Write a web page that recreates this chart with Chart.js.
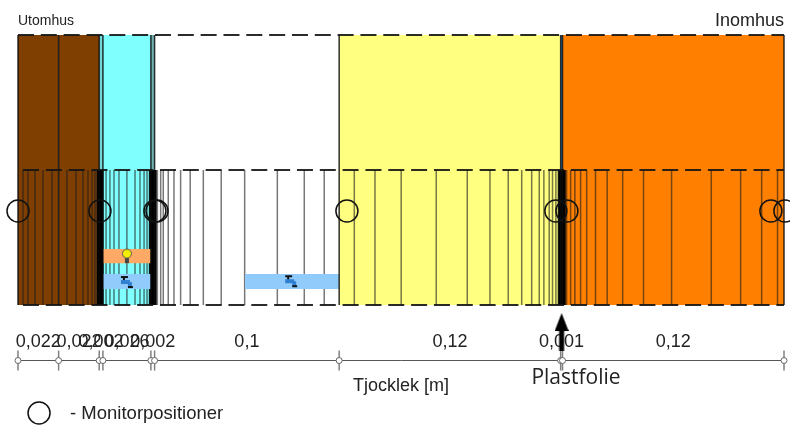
<!DOCTYPE html>
<html>
<head>
<meta charset="utf-8">
<style>
    html, body { margin: 0; padding: 0; background: #fff; overflow: hidden; }
    canvas { display: block; filter: blur(0.4px); }
</style>
<script src="https://cdn.jsdelivr.net/npm/chart.js@4"></script>
</head>
<body>
<canvas id="wall-chart" width="790" height="425"></canvas>
<script>
// wall layers, thickness in metres
const layerThickness = [0.022, 0.022, 0.002, 0.026, 0.002, 0.1, 0.12, 0.001, 0.12];
const layerLabels = ["0,022", "0,022", "0,002", "0,026", "0,002", "0,1", "0,12", "0,001", "0,12"];
const layerColors = ["#7f3f00", "#7f3f00", "#70d8d8", "#80ffff", "#70b0b0", "#ffffff", "#ffff80", "#2a7fc0", "#ff8000"];

// numeric grid lines inside the wall, metres
const meshPositions = [
    0.0027, 0.0054, 0.0092, 0.0135, 0.0184, 0.0265, 0.0314, 0.0352, 0.0379, 0.0401, 0.0417, 0.0428,
    0.0477, 0.0498, 0.052, 0.0547, 0.059, 0.0634, 0.0661, 0.0683,
    0.0699, 0.0712, 0.0755, 0.0773, 0.0787, 0.0814, 0.0845, 0.0881,
    0.0933, 0.1004, 0.1101, 0.1228, 0.1405, 0.1551, 0.1659, 0.1822, 0.1934, 0.2076, 0.2266, 0.2434,
    0.2557, 0.2656, 0.2729, 0.2783, 0.2824, 0.2849, 0.2878, 0.2896, 0.2914, 0.2927,
    0.2972, 0.2994, 0.3017, 0.3048, 0.3081, 0.3129, 0.3192,
    0.3276, 0.3389, 0.3541, 0.3756, 0.3915, 0.4029, 0.4115
];

// tightly packed grid lines around the thin layers, these read as solid black
const denseMeshPositions = [
    0.0434, 0.0442, 0.045, 0.0458,
    0.0716, 0.0722, 0.0728, 0.0734, 0.074, 0.0746,
    0.2932, 0.2938, 0.2944, 0.295, 0.2956, 0.2962
];

const monitorPositions = [0, 0.0444, 0.0742, 0.0753, 0.1782, 0.2914, 0.2974, 0.4079, 0.4155];
const monitorHeight = 0.348;
const monitorKeyPosition = [0.0114, -0.4];

// source bands: x from, x to, y from, y to
const heatSource = [0.046, 0.072, 0.155, 0.207];
const moistureSources = [[0.046, 0.072, 0.059, 0.115], [0.123, 0.174, 0.059, 0.115]];

const heatIcon = [0.059, 0.181];
const moistureIcons = [[0.059, 0.085], [0.148, 0.088]];
const foilArrow = [0.2945, -0.1];

const wallBottom = 0;
const meshTop = 0.5;
const wallTop = 1;
const axisHeight = -0.2056;
const labelHeight = -0.096;
const yMin = -0.4444;
const yMax = 1.1296;

const notes = [
    { text: "Utomhus", x: 0, y: 1.052, align: "left", font: "14px 'Liberation Sans'" },
    { text: "Inomhus", x: 0.415, y: 1.052, align: "right", font: "18px 'Liberation Sans'" },
    { text: "Tjocklek [m]", x: 0.2075, y: -0.3, align: "center", font: "18px 'Liberation Sans'" },
    { text: "Plastfolie", x: 0.3023, y: -0.27, align: "center", font: "21px 'Open Sans'" },
    { text: "- Monitorpositioner", x: 0.0282, y: -0.404, align: "left", font: "18.5px 'Liberation Sans'" }
];

let total = 0;
const boundaries = [0];
layerThickness.forEach(t => {
    total += t;
    boundaries.push(total);
});
const midpoints = layerThickness.map((t, i) => boundaries[i] + t / 2);

function makeBulbIcon() {
    const c = document.createElement("canvas");
    c.width = 12;
    c.height = 16;
    const g = c.getContext("2d");
    g.fillStyle = "#f4f000";
    g.strokeStyle = "#555";
    g.lineWidth = 1;
    g.beginPath();
    g.arc(6, 5.5, 4.5, 0, Math.PI * 2);
    g.fill();
    g.stroke();
    g.fillStyle = "#444";
    g.fillRect(4, 10, 4, 5);
    return c;
}

function makeTapIcon() {
    const c = document.createElement("canvas");
    c.width = 14;
    c.height = 14;
    const g = c.getContext("2d");
    g.fillStyle = "#111";
    g.fillRect(1, 1, 7, 2);
    g.fillRect(3, 3, 2, 2);
    g.fillStyle = "#2f80d0";
    g.fillRect(1, 5, 9, 4);
    g.fillRect(8, 7, 4, 4);
    g.fillStyle = "#111";
    g.fillRect(8, 11, 5, 2);
    return c;
}

function makeArrowIcon() {
    const c = document.createElement("canvas");
    c.width = 14;
    c.height = 38;
    const g = c.getContext("2d");
    g.fillStyle = "#000";
    g.beginPath();
    g.moveTo(7, 0);
    g.lineTo(14, 18);
    g.lineTo(0, 18);
    g.closePath();
    g.fill();
    g.fillRect(4.5, 18, 5, 20);
    return c;
}

function bandDataset(band, color) {
    return {
        data: [{ x: band[0], y: band[3] }, { x: band[1], y: band[3] }],
        showLine: true,
        borderWidth: 0,
        pointRadius: 0,
        backgroundColor: color,
        fill: { value: band[2] },
        clip: false
    };
}

function verticalLines(positions, from, to, color, width) {
    const points = [];
    positions.forEach(x => {
        points.push({ x: x, y: from }, { x: x, y: to }, { x: NaN, y: NaN });
    });
    return {
        data: points,
        showLine: true,
        spanGaps: false,
        borderColor: color,
        borderWidth: width,
        pointRadius: 0,
        clip: false
    };
}

function dashedLine(y, phase) {
    return {
        data: [{ x: 0, y: y }, { x: total, y: y }],
        showLine: true,
        borderColor: "rgba(20,20,20,0.9)",
        borderWidth: 2,
        borderDash: [16, 6.83],
        borderDashOffset: phase,
        pointRadius: 0,
        clip: false
    };
}

function iconDataset(position, icon) {
    return {
        data: [{ x: position[0], y: position[1] }],
        showLine: false,
        pointStyle: icon,
        pointRadius: 8,
        clip: false
    };
}

// painted in this order, reversed before handing to Chart.js
const paintOrder = [];

layerColors.forEach((color, i) => {
    paintOrder.push(bandDataset([boundaries[i], boundaries[i + 1], wallBottom, wallTop], color));
});

paintOrder.push(verticalLines(meshPositions, wallBottom, meshTop, "rgba(30,30,30,0.6)", 1.5));
paintOrder.push(verticalLines(denseMeshPositions, wallBottom, meshTop, "#000", 2));

paintOrder.push(bandDataset(heatSource, "#ffa966"));
moistureSources.forEach(band => paintOrder.push(bandDataset(band, "#90cbfb")));

paintOrder.push(verticalLines(boundaries, wallBottom, wallTop, "rgba(10,10,10,0.85)", 1.5));

paintOrder.push(dashedLine(wallTop, 0));
paintOrder.push(dashedLine(meshTop, -5));
paintOrder.push(dashedLine(wallBottom, -5));

paintOrder.push(iconDataset(heatIcon, makeBulbIcon()));
moistureIcons.forEach(p => paintOrder.push(iconDataset(p, makeTapIcon())));

paintOrder.push({
    data: monitorPositions.map(x => ({ x: x, y: monitorHeight })).concat([{ x: monitorKeyPosition[0], y: monitorKeyPosition[1] }]),
    showLine: false,
    pointStyle: "circle",
    pointRadius: 11,
    pointBackgroundColor: "rgba(0,0,0,0)",
    pointBorderColor: "#111",
    pointBorderWidth: 1.5,
    clip: false
});

// axis markers at layer boundaries
paintOrder.push({
    data: boundaries.map(x => ({ x: x, y: axisHeight })),
    showLine: false,
    pointStyle: "line",
    rotation: 90,
    pointRadius: 10,
    pointBorderColor: "#808080",
    pointBorderWidth: 1.5,
    clip: false
});
paintOrder.push({
    data: boundaries.map(x => ({ x: x, y: axisHeight })),
    showLine: false,
    pointStyle: "circle",
    pointRadius: 3,
    pointBackgroundColor: "#ffffff",
    pointBorderColor: "#666",
    pointBorderWidth: 1,
    clip: false
});

paintOrder.push(iconDataset(foilArrow, makeArrowIcon()));

const notesPlugin = {
    id: "notes",
    afterDraw(chart) {
        const ctx = chart.ctx;
        ctx.save();
        ctx.fillStyle = "#222";
        ctx.textBaseline = "middle";
        notes.forEach(n => {
            ctx.font = n.font;
            ctx.textAlign = n.align;
            ctx.fillText(n.text, chart.scales.x.getPixelForValue(n.x), chart.scales.y.getPixelForValue(n.y));
        });
        ctx.restore();
    }
};

new Chart(document.getElementById("wall-chart").getContext("2d"), {
    type: "scatter",
    data: { datasets: paintOrder.reverse() },
    plugins: [notesPlugin],
    options: {
        responsive: false,
        animation: false,
        layout: { autoPadding: false, padding: { left: 18, right: 6, top: 0, bottom: 0 } },
        plugins: { legend: { display: false }, tooltip: { enabled: false } },
        scales: {
            x: {
                type: "linear",
                min: 0,
                max: total,
                position: { y: axisHeight },
                grid: { display: false },
                border: { display: true, color: "#555", width: 1 },
                ticks: { display: false }
            },
            layerAxis: {
                axis: "x",
                type: "linear",
                min: 0,
                max: total,
                position: { y: labelHeight },
                grid: { display: false, drawTicks: false },
                border: { display: false },
                afterBuildTicks(scale) {
                    scale.ticks = midpoints.map(v => ({ value: v }));
                },
                ticks: {
                    autoSkip: false,
                    maxRotation: 0,
                    minRotation: 0,
                    padding: 0,
                    color: "#222",
                    font: { family: "'Liberation Sans'", size: 18 },
                    callback: (value, index) => layerLabels[index]
                }
            },
            y: {
                type: "linear",
                display: false,
                min: yMin,
                max: yMax
            }
        }
    }
});
</script>
</body>
</html>
